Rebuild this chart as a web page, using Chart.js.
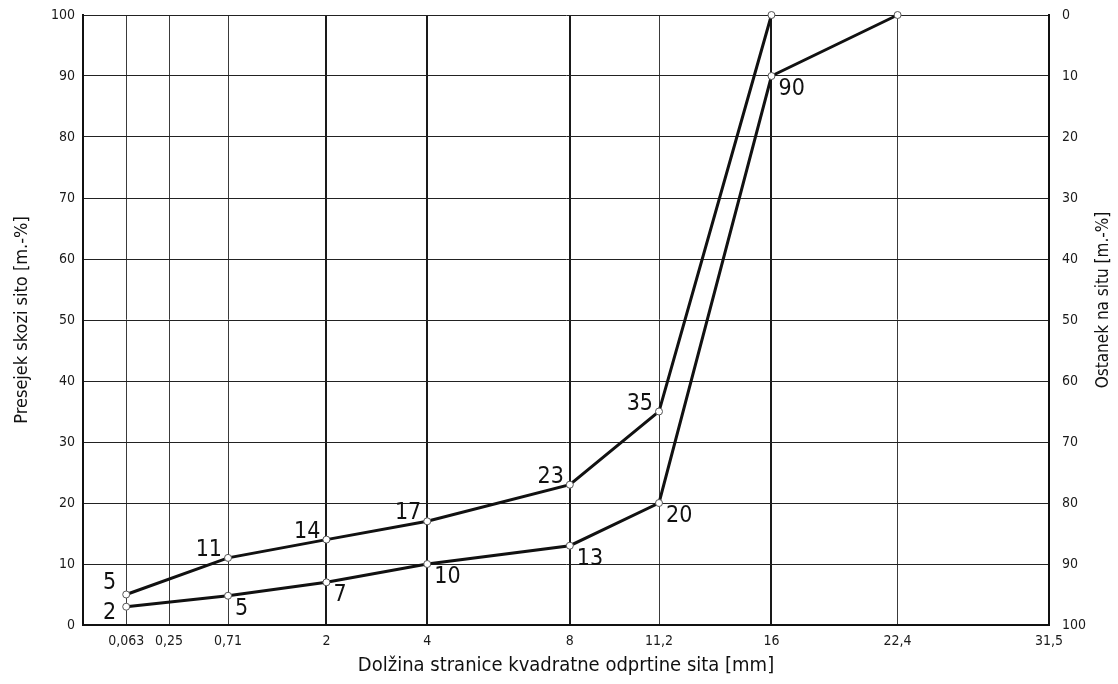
<!DOCTYPE html>
<html>
<head>
<meta charset="utf-8">
<title>Zrnavostna krivulja</title>
<script src="https://cdn.jsdelivr.net/npm/chart.js@4"></script>
<style>
    html, body { margin: 0; padding: 0; background: #fff; }
    canvas { display: block; }
</style>
</head>
<body>
<canvas id="gradingChart" width="1118" height="684"></canvas>
<script>
// Sieve sizes (mm) and their labels on the x axis
const sieves = [0.063, 0.25, 0.71, 2, 4, 8, 11.2, 16, 22.4, 31.5];
const sieveLabels = ['0,063', '0,25', '0,71', '2', '4', '8', '11,2', '16', '22,4', '31,5'];

// Upper limit curve
const upperSizes = [0.063, 0.71, 2, 4, 8, 11.2, 16];
const upperPassing = [5, 11, 14, 17, 23, 35, 100];
const upperTexts = ['5', '11', '14', '17', '23', '35', ''];

// Lower limit curve
const lowerSizes = [0.063, 0.71, 2, 4, 8, 11.2, 16, 22.4];
const lowerPassing = [3, 4.8, 7, 10, 13, 20, 90, 100];
const lowerTexts = ['2', '5', '7', '10', '13', '20', '90', ''];

const FONT = "'DejaVu Sans Condensed', 'DejaVu Sans', sans-serif";
const INK = '#111';
const heavySieves = [2, 4, 8, 16];

// x axis of a grading chart runs on square root of the sieve size
class SqrtScale extends Chart.LinearScale {
    static id = 'sqrt';

    getPixelForValue(value) {
        const a = Math.sqrt(this.min);
        const b = Math.sqrt(this.max);
        return this.getPixelForDecimal((Math.sqrt(Math.max(value, 0)) - a) / (b - a));
    }

    getValueForPixel(pixel) {
        const a = Math.sqrt(this.min);
        const b = Math.sqrt(this.max);
        const v = a + this.getDecimalForPixel(pixel) * (b - a);
        return v * v;
    }
}
Chart.register(SqrtScale);

// numbers next to the points
const pointTextPlugin = {
    id: 'pointTexts',
    afterDatasetsDraw(chart) {
        const ctx = chart.ctx;
        ctx.save();
        ctx.font = '23px ' + FONT;
        ctx.fillStyle = INK;
        ctx.textBaseline = 'alphabetic';
        chart.data.datasets.forEach((ds, di) => {
            const meta = chart.getDatasetMeta(di);
            meta.data.forEach((pt, i) => {
                const text = ds.pointTexts[i];
                if (!text) return;
                if (ds.textSide === 'above') {
                    ctx.textAlign = 'right';
                    if (i === 0) {
                        ctx.fillText(text, pt.x - 10, pt.y - 6);
                    } else {
                        ctx.fillText(text, pt.x - 6, pt.y - 2);
                    }
                } else {
                    if (i === 0) {
                        ctx.textAlign = 'right';
                        ctx.fillText(text, pt.x - 10, pt.y + 12);
                    } else {
                        ctx.textAlign = 'left';
                        ctx.fillText(text, pt.x + 7, pt.y + 19);
                    }
                }
            });
        });
        ctx.restore();
    },
    afterDraw(chart) {
        // right axis title reads bottom to top, like the left one
        const ctx = chart.ctx;
        const area = chart.chartArea;
        ctx.save();
        ctx.font = '17px ' + FONT;
        ctx.fillStyle = INK;
        ctx.textAlign = 'center';
        ctx.textBaseline = 'middle';
        ctx.translate(1104, (area.top + area.bottom) / 2 - 20);
        ctx.rotate(-Math.PI / 2);
        ctx.fillText('Ostanek na situ [m.-%]', 0, 0);
        ctx.restore();
    }
};

const lineStyle = {
    borderColor: INK,
    borderWidth: 3,
    pointRadius: 3.5,
    pointBackgroundColor: '#fff',
    pointBorderColor: '#555',
    pointBorderWidth: 1,
    tension: 0,
    clip: false
};

// fixed box sizes so the plot area lands where the original has it
function fixWidth(w) {
    return axis => {
        axis.width = w;
        axis.paddingTop = 0;
        axis.paddingBottom = 0;
    };
}

Chart.defaults.font.family = FONT;
Chart.defaults.color = '#1a1a1a';

new Chart(document.getElementById('gradingChart'), {
    type: 'line',
    data: {
        datasets: [
            Object.assign({
                label: 'Zgornja meja',
                data: upperSizes.map((s, i) => ({ x: s, y: upperPassing[i] })),
                pointTexts: upperTexts,
                textSide: 'above'
            }, lineStyle),
            Object.assign({
                label: 'Spodnja meja',
                data: lowerSizes.map((s, i) => ({ x: s, y: lowerPassing[i] })),
                pointTexts: lowerTexts,
                textSide: 'below'
            }, lineStyle)
        ]
    },
    options: {
        responsive: false,
        animation: false,
        layout: { padding: { top: 15 } },
        plugins: {
            legend: { display: false },
            tooltip: { enabled: false }
        },
        scales: {
            x: {
                type: 'sqrt',
                min: 0,
                max: 31.5,
                afterBuildTicks: axis => {
                    axis.ticks = sieves.map(v => ({ value: v }));
                },
                afterFit: axis => {
                    axis.height = 59;
                    axis.paddingLeft = 0;
                    axis.paddingRight = 0;
                },
                ticks: {
                    autoSkip: false,
                    maxRotation: 0,
                    padding: 8,
                    font: { size: 14 },
                    callback: (value, index) => sieveLabels[index]
                },
                grid: {
                    drawTicks: false,
                    color: ctx => heavySieves.includes(ctx.tick && ctx.tick.value) ? '#1a1a1a' : '#3a3a3a',
                    lineWidth: ctx => heavySieves.includes(ctx.tick && ctx.tick.value) ? 2 : 1
                },
                border: { color: INK, width: 2 },
                title: {
                    display: true,
                    text: 'Dolžina stranice kvadratne odprtine sita [mm]',
                    font: { size: 20 },
                    color: INK,
                    padding: { top: 0, bottom: 6 }
                }
            },
            y: {
                position: 'left',
                min: 0,
                max: 100,
                afterFit: fixWidth(83),
                ticks: {
                    stepSize: 10,
                    padding: 8,
                    font: { size: 14 }
                },
                grid: {
                    drawTicks: false,
                    color: '#222',
                    lineWidth: 1
                },
                border: { color: INK, width: 2 },
                title: {
                    display: true,
                    text: 'Presejek skozi sito [m.-%]',
                    font: { size: 18 },
                    color: INK,
                    padding: { top: 12, bottom: 0 }
                }
            },
            y1: {
                position: 'right',
                reverse: true,
                min: 0,
                max: 100,
                afterFit: fixWidth(69),
                ticks: {
                    stepSize: 10,
                    padding: 13,
                    font: { size: 14 }
                },
                grid: { drawOnChartArea: false, drawTicks: false },
                border: { color: INK, width: 2 }
            }
        }
    },
    plugins: [pointTextPlugin]
});
</script>
</body>
</html>
